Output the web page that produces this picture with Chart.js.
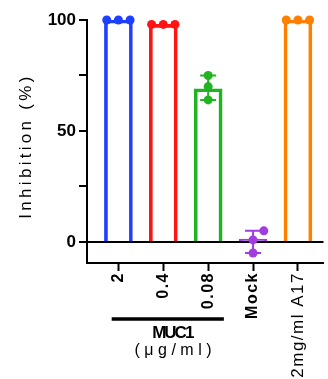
<!DOCTYPE html>
<html>
<head>
<meta charset="utf-8">
<script src="https://cdn.jsdelivr.net/npm/chart.js@4"></script>
<style>
  body { margin: 0; background: #fff; }
  canvas { display: block; }
</style>
</head>
<body>
<canvas id="myChart" width="328" height="379"></canvas>
<script>
// data
var labels = ['2', '0.4', '0.08', 'Mock', '2mg/ml A17'];
var colors = ['#1f3fff', '#ff1414', '#22b322', '#a03ce0', '#ff8000'];
var means = [100, 98, 69, 1.3, 100];
var errLow = [null, null, 64, -5, null];
var errHigh = [null, null, 75, 5, null];

var rep2 = [100, 100, 100];
var rep04 = [98, 98, 98];
var rep008 = [75, 70, 64];
var repMock = [5, 0.9, -5];
var repA17 = [100, 100, 100];
var replicates = [rep2, rep04, rep008, repMock, repA17];

// horizontal spread of the dots inside each column (x units)
var spread3 = [-0.26, 0, 0.26];
var spreadCenter = [0, 0, 0];
var spreadMock = [0.24, 0, 0];
var spreads = [spread3, spread3, spreadCenter, spreadMock, spread3];

var yTicks = [0, 25, 50, 75, 100];

var fontFam = "Arial, 'Liberation Sans', sans-serif";

var barData = means.map(function (v, i) { return { x: i, y: v }; });

var datasets = [{
    type: 'bar',
    data: barData,
    backgroundColor: 'rgba(0,0,0,0)',
    borderColor: colors,
    borderWidth: 3,
    barThickness: 28,
    order: 2
}];

replicates.forEach(function (vals, i) {
    datasets.push({
        type: 'scatter',
        data: vals.map(function (v, k) { return { x: i + spreads[i][k], y: v }; }),
        backgroundColor: colors[i],
        borderColor: colors[i],
        pointRadius: 4.5,
        pointBorderWidth: 0,
        showLine: false,
        clip: false,
        order: 1
    });
});

var extras = {
    id: 'extras',
    beforeDatasetsDraw: function (chart) {
        var ctx = chart.ctx, xs = chart.scales.x, ys = chart.scales.y;
        ctx.save();
        ctx.lineWidth = 2;
        for (var i = 0; i < labels.length; i++) {
            if (errLow[i] == null) continue;
            var px = xs.getPixelForValue(i);
            var lo = ys.getPixelForValue(errLow[i]);
            var hi = ys.getPixelForValue(errHigh[i]);
            ctx.strokeStyle = colors[i];
            ctx.beginPath();
            ctx.moveTo(px, lo); ctx.lineTo(px, hi);
            ctx.moveTo(px - 8, lo); ctx.lineTo(px + 8, lo);
            ctx.moveTo(px - 8, hi); ctx.lineTo(px + 8, hi);
            ctx.stroke();
        }
        ctx.restore();
    },
    afterDraw: function (chart) {
        var ctx = chart.ctx, xs = chart.scales.x, area = chart.chartArea;
        ctx.save();
        // y title
        ctx.fillStyle = '#000';
        ctx.font = '17px ' + fontFam;
        ctx.letterSpacing = '3.3px';
        ctx.textAlign = 'center';
        ctx.textBaseline = 'middle';
        ctx.translate(26, 146);
        ctx.rotate(-Math.PI / 2);
        ctx.fillText('Inhibition (%)', 0, 0);
        ctx.restore();

        // MUC1 group bracket
        ctx.save();
        var x1 = xs.getPixelForValue(-0.15), x2 = xs.getPixelForValue(2.35);
        var yb = area.bottom + 56;
        ctx.strokeStyle = '#000';
        ctx.lineWidth = 3.5;
        ctx.beginPath();
        ctx.moveTo(x1, yb); ctx.lineTo(x2, yb);
        ctx.stroke();
        var cx = xs.getPixelForValue(1.2);
        ctx.fillStyle = '#000';
        ctx.textAlign = 'center';
        ctx.textBaseline = 'middle';
        ctx.font = 'bold 17px ' + fontFam;
        ctx.letterSpacing = '-2px';
        ctx.fillText('MUC1', cx, yb + 14);
        ctx.font = '16px ' + fontFam;
        ctx.letterSpacing = '4.5px';
        ctx.fillText('(\u03bcg/ml)', cx + 3, yb + 32);
        ctx.restore();
    },
    afterUpdate: function (chart) {
        var s = chart.scales.x;
        if (s._spaced) return;
        var orig = s.drawLabels;
        s.drawLabels = function (a) {
            this.ctx.save();
            this.ctx.letterSpacing = '1.5px';
            orig.call(this, a);
            this.ctx.restore();
        };
        s._spaced = true;
    }
};

var ctx = document.getElementById('myChart').getContext('2d');
var myChart = new Chart(ctx, {
    type: 'bar',
    data: { datasets: datasets },
    plugins: [extras],
    options: {
        responsive: false,
        devicePixelRatio: 1,
        animation: false,
        layout: { padding: { top: 20, right: 0, left: 0, bottom: 0 } },
        plugins: { legend: { display: false }, tooltip: { enabled: false } },
        scales: {
            x: {
                type: 'linear',
                offset: false,
                min: -0.70,
                max: 4.57,
                afterBuildTicks: function (scale) {
                    scale.ticks = labels.map(function (l, i) { return { value: i }; });
                },
                afterFit: function (scale) {
                    scale.height = 116;
                    scale.paddingLeft = 0; scale.paddingRight = 0;
                    scale.paddingTop = 0; scale.paddingBottom = 0;
                },
                grid: { drawOnChartArea: false, drawTicks: true, tickLength: 8, tickColor: '#000', tickWidth: 2, offset: false },
                border: { color: '#000', width: 2 },
                ticks: {
                    autoSkip: false,
                    minRotation: 90,
                    maxRotation: 90,
                    padding: 1,
                    color: '#000',
                    font: function (c) {
                        return c.index === 4
                            ? { family: fontFam, size: 17, weight: 'normal' }
                            : { family: fontFam, size: 16, weight: 'bold' };
                    },
                    callback: function (v) { return labels[v]; }
                }
            },
            y: {
                min: -9.5,
                max: 100,
                afterBuildTicks: function (scale) {
                    scale.ticks = yTicks.map(function (v) { return { value: v }; });
                },
                afterFit: function (scale) {
                    scale.width = 87;
                    scale.paddingLeft = 0; scale.paddingRight = 0;
                    scale.paddingTop = 0; scale.paddingBottom = 0;
                },
                grid: {
                    color: function (c) { return c.tick && c.tick.value === 0 ? '#000' : 'rgba(0,0,0,0)'; },
                    lineWidth: 2,
                    tickLength: 8,
                    tickColor: '#000',
                    tickWidth: 2
                },
                border: { color: '#000', width: 2 },
                ticks: {
                    padding: 3,
                    color: '#000',
                    font: { family: fontFam, size: 17, weight: 'bold' },
                    callback: function (v) { return v % 50 === 0 ? v : ''; }
                }
            }
        }
    }
});
</script>
</body>
</html>
